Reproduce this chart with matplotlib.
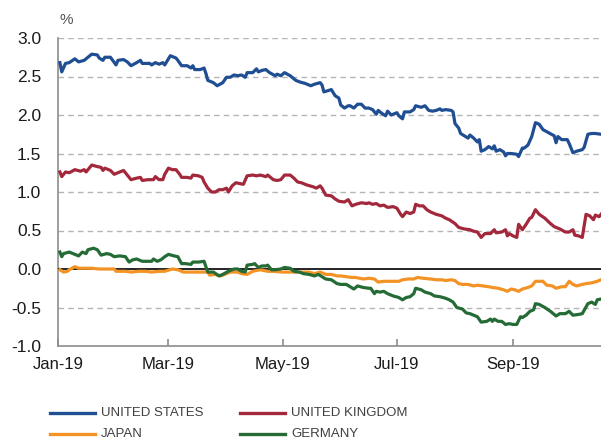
import matplotlib
matplotlib.use("Agg")
import matplotlib.pyplot as plt
from matplotlib.lines import Line2D
from matplotlib import font_manager
import pandas as pd

# ---------------- data (day offset from 1 Jan 2019, yield %) ----------------
start_date = "2019-01-01"
end_day = 290

us_days = [1, 2, 4, 6, 9, 11, 14, 18, 21, 22, 24, 25, 28, 31, 32, 35, 37, 39, 42, 44, 45, 49, 50, 52, 54, 56, 57,
           60, 63, 64, 66, 69, 71, 72, 73, 76, 78, 79, 80, 83, 85, 88, 90, 92, 94, 96, 98, 100, 101, 104, 106, 107,
           109, 111, 113, 116, 117, 119, 121, 124, 125, 127, 129, 132, 135, 137, 140, 141, 142, 146, 148, 150, 151,
           153, 155, 156, 158, 160, 162, 164, 166, 168, 170, 171, 173, 175, 176, 178, 181, 182, 184, 185, 188, 190,
           191, 194, 196, 198, 200, 202, 204, 205, 207, 210, 211, 212, 214, 215, 217, 219, 220, 222, 224, 225, 226,
           228, 230, 232, 233, 234, 236, 238, 239, 240, 242, 245, 246, 248, 249, 251, 253, 254, 255, 257, 259, 262,
           265, 266, 267, 269, 272, 273, 275, 277, 280, 281, 283, 285, 287, 290]
us_vals = [2.68, 2.56, 2.67, 2.68, 2.73, 2.69, 2.71, 2.79, 2.78, 2.74, 2.71, 2.75, 2.75, 2.65, 2.71, 2.72, 2.69, 2.64,
           2.68, 2.71, 2.67, 2.67, 2.65, 2.68, 2.66, 2.68, 2.65, 2.77, 2.74, 2.71, 2.64, 2.64, 2.61, 2.64, 2.59, 2.59,
           2.61, 2.54, 2.45, 2.42, 2.38, 2.42, 2.49, 2.49, 2.52, 2.51, 2.52, 2.49, 2.55, 2.55, 2.60, 2.56, 2.58, 2.59,
           2.55, 2.51, 2.53, 2.51, 2.55, 2.51, 2.49, 2.45, 2.43, 2.41, 2.38, 2.40, 2.42, 2.39, 2.30, 2.33, 2.25, 2.22,
           2.13, 2.09, 2.12, 2.12, 2.09, 2.14, 2.14, 2.09, 2.09, 2.07, 2.01, 2.06, 2.02, 1.99, 2.05, 2.00, 2.03, 1.99,
           1.95, 2.04, 2.04, 2.07, 2.12, 2.10, 2.12, 2.06, 2.05, 2.06, 2.08, 2.06, 2.07, 2.06, 2.04, 1.89, 1.83, 1.76,
           1.73, 1.70, 1.74, 1.70, 1.65, 1.68, 1.53, 1.55, 1.59, 1.56, 1.60, 1.53, 1.55, 1.52, 1.47, 1.50, 1.50, 1.49,
           1.46, 1.57, 1.57, 1.61, 1.72, 1.81, 1.90, 1.88, 1.81, 1.77, 1.73, 1.64, 1.72, 1.68, 1.68, 1.63, 1.51, 1.53,
           1.55, 1.58, 1.75, 1.76, 1.76, 1.75]

uk_days = [1, 2, 4, 6, 9, 12, 14, 15, 18, 21, 23, 24, 25, 28, 30, 33, 35, 37, 39, 42, 44, 45, 48, 51, 52, 54, 56, 57,
           59, 61, 63, 65, 66, 69, 71, 72, 75, 77, 78, 80, 82, 84, 86, 88, 90, 91, 93, 95, 97, 99, 101, 104, 106, 108,
           111, 112, 115, 117, 119, 121, 124, 126, 128, 130, 133, 136, 138, 140, 141, 143, 146, 148, 150, 153, 155,
           157, 159, 162, 165, 166, 168, 170, 172, 174, 176, 179, 181, 183, 184, 186, 188, 190, 191, 193, 195, 197,
           199, 202, 205, 207, 209, 212, 214, 217, 220, 222, 224, 226, 228, 231, 233, 234, 237, 239, 240, 241, 243,
           245, 246, 248, 250, 252, 253, 255, 257, 260, 263, 265, 268, 271, 273, 275, 276, 278, 280, 282, 284, 286,
           287, 289, 290]
uk_vals = [1.26, 1.20, 1.26, 1.25, 1.29, 1.27, 1.29, 1.26, 1.35, 1.33, 1.32, 1.28, 1.31, 1.28, 1.23, 1.26, 1.28, 1.22,
           1.16, 1.18, 1.19, 1.15, 1.16, 1.16, 1.20, 1.16, 1.16, 1.23, 1.31, 1.29, 1.29, 1.23, 1.19, 1.19, 1.18, 1.22,
           1.21, 1.19, 1.13, 1.05, 1.00, 1.00, 1.03, 1.03, 1.05, 1.00, 1.08, 1.12, 1.11, 1.10, 1.21, 1.22, 1.21, 1.22,
           1.20, 1.22, 1.16, 1.15, 1.16, 1.22, 1.22, 1.18, 1.13, 1.12, 1.09, 1.07, 1.05, 1.08, 1.05, 0.96, 0.95, 0.91,
           0.88, 0.87, 0.90, 0.82, 0.84, 0.86, 0.85, 0.86, 0.84, 0.85, 0.82, 0.83, 0.80, 0.81, 0.79, 0.71, 0.68, 0.74,
           0.72, 0.74, 0.84, 0.82, 0.82, 0.77, 0.74, 0.71, 0.69, 0.66, 0.64, 0.59, 0.54, 0.52, 0.51, 0.49, 0.48, 0.41,
           0.46, 0.46, 0.51, 0.47, 0.48, 0.51, 0.43, 0.46, 0.43, 0.41, 0.58, 0.51, 0.58, 0.66, 0.67, 0.77, 0.71, 0.66,
           0.59, 0.55, 0.52, 0.48, 0.48, 0.51, 0.44, 0.43, 0.41, 0.71, 0.69, 0.64, 0.70, 0.68, 0.71]

jp_days = [1, 3, 5, 6, 9, 11, 14, 18, 22, 25, 30, 31, 36, 39, 43, 47, 50, 54, 57, 61, 64, 67, 71, 77, 80, 81, 84, 87,
           89, 92, 96, 98, 101, 104, 108, 112, 115, 120, 123, 127, 130, 134, 137, 140, 143, 146, 149, 151, 154, 157,
           159, 163, 166, 169, 171, 174, 176, 179, 182, 184, 187, 190, 192, 195, 199, 202, 205, 207, 210, 212, 214,
           216, 219, 222, 224, 227, 230, 232, 235, 238, 240, 242, 244, 246, 248, 251, 253, 255, 257, 259, 261, 264,
           266, 269, 271, 273, 275, 277, 280, 282, 285, 288, 290]
jp_vals = [-0.01, -0.04, -0.03, -0.01, 0.03, 0.01, 0.01, 0.01, 0.00, 0.00, 0.00, -0.03, -0.03, -0.04, -0.03, -0.03,
           -0.04, -0.03, -0.03, 0.00, -0.01, -0.04, -0.04, -0.04, -0.04, -0.08, -0.07, -0.09, -0.07, -0.04, -0.04,
           -0.06, -0.07, -0.03, -0.01, -0.03, -0.03, -0.04, -0.04, -0.04, -0.04, -0.04, -0.06, -0.04, -0.07, -0.07,
           -0.09, -0.09, -0.10, -0.11, -0.11, -0.13, -0.12, -0.13, -0.17, -0.16, -0.16, -0.16, -0.16, -0.14, -0.13,
           -0.13, -0.11, -0.12, -0.13, -0.14, -0.14, -0.15, -0.14, -0.15, -0.19, -0.20, -0.20, -0.22, -0.21, -0.22,
           -0.23, -0.24, -0.25, -0.27, -0.29, -0.26, -0.27, -0.29, -0.26, -0.24, -0.22, -0.16, -0.16, -0.16, -0.21,
           -0.22, -0.25, -0.23, -0.23, -0.16, -0.20, -0.22, -0.20, -0.19, -0.18, -0.16, -0.14]

de_days = [1, 2, 3, 6, 8, 11, 13, 15, 16, 19, 21, 23, 26, 28, 30, 33, 36, 38, 40, 42, 45, 47, 50, 51, 53, 55, 57, 59,
           62, 64, 66, 68, 71, 72, 75, 78, 79, 80, 83, 86, 88, 91, 94, 96, 98, 100, 101, 104, 105, 107, 109, 111, 112,
           114, 116, 119, 121, 124, 126, 129, 131, 134, 137, 139, 141, 143, 146, 149, 151, 154, 156, 158, 160, 163,
           166, 167, 169, 170, 172, 174, 176, 179, 182, 184, 186, 188, 190, 191, 194, 196, 199, 201, 204, 207, 209,
           211, 213, 216, 218, 220, 222, 224, 226, 229, 231, 232, 233, 235, 237, 239, 241, 243, 245, 247, 248, 250,
           252, 254, 255, 257, 260, 263, 266, 268, 271, 273, 275, 278, 280, 283, 285, 287, 288, 290]
de_vals = [0.22, 0.16, 0.20, 0.22, 0.20, 0.17, 0.22, 0.20, 0.25, 0.27, 0.25, 0.18, 0.20, 0.19, 0.16, 0.17, 0.16, 0.09,
           0.12, 0.13, 0.10, 0.10, 0.10, 0.13, 0.10, 0.12, 0.16, 0.19, 0.17, 0.16, 0.07, 0.07, 0.06, 0.09, 0.09, 0.10,
           0.03, -0.04, -0.04, -0.09, -0.07, -0.03, 0.00, 0.00, -0.03, -0.04, 0.05, 0.06, 0.07, 0.02, 0.04, 0.04, 0.05,
           -0.01, -0.01, 0.00, 0.02, 0.01, -0.03, -0.04, -0.06, -0.07, -0.09, -0.07, -0.10, -0.13, -0.14, -0.19, -0.20,
           -0.20, -0.23, -0.26, -0.22, -0.24, -0.25, -0.25, -0.32, -0.29, -0.30, -0.29, -0.32, -0.35, -0.37, -0.40,
           -0.37, -0.36, -0.32, -0.25, -0.27, -0.30, -0.32, -0.35, -0.36, -0.38, -0.40, -0.43, -0.50, -0.52, -0.57,
           -0.58, -0.60, -0.62, -0.69, -0.68, -0.65, -0.68, -0.65, -0.68, -0.68, -0.72, -0.71, -0.72, -0.72, -0.62,
           -0.63, -0.60, -0.55, -0.53, -0.45, -0.46, -0.50, -0.55, -0.61, -0.58, -0.58, -0.55, -0.60, -0.59, -0.58,
           -0.45, -0.43, -0.46, -0.40, -0.39]

series_names = ["UNITED STATES", "UNITED KINGDOM", "JAPAN", "GERMANY"]
tick_dates = ["2019-01-01", "2019-03-01", "2019-05-01", "2019-07-01", "2019-09-01"]
tick_labels = ["Jan-19", "Mar-19", "May-19", "Jul-19", "Sep-19"]
y_ticks = [-1.0, -0.5, 0.0, 0.5, 1.0, 1.5, 2.0, 2.5, 3.0]

# ---------------- styling ----------------
colors = {"UNITED STATES": "#1f4e92", "UNITED KINGDOM": "#a3283c",
          "JAPAN": "#f39325", "GERMANY": "#256b35"}

installed = {f.name for f in font_manager.fontManager.ttflist}
base_font = "Liberation Sans" if "Liberation Sans" in installed else "DejaVu Sans"
narrow_font = "Liberation Sans Narrow" if "Liberation Sans Narrow" in installed else base_font
plt.rcParams["font.family"] = [base_font, "DejaVu Sans"]

t0 = pd.Timestamp(start_date)
def to_dates(days):
    return t0 + pd.to_timedelta(days, unit="D")

fig = plt.figure(figsize=(6.01, 4.41), dpi=100)
W, H = 601, 441
ax = fig.add_axes([58 / W, (H - 346) / H, (601 - 58) / W, (346 - 38) / H])

# grid
for yv in y_ticks:
    if yv == 0.0:
        ax.axhline(yv, color="black", lw=1.2, zorder=3)
    elif yv > -1.0:
        ax.axhline(yv, color="#b5b5b5", lw=1.0, ls=(0, (4, 3)), zorder=1)

data = {
    "UNITED STATES": (us_days, us_vals),
    "UNITED KINGDOM": (uk_days, uk_vals),
    "JAPAN": (jp_days, jp_vals),
    "GERMANY": (de_days, de_vals),
}
for name in ["JAPAN", "GERMANY", "UNITED KINGDOM", "UNITED STATES"]:
    d, v = data[name]
    ax.plot(to_dates(d), v, color=colors[name], lw=2.3, zorder=4, solid_joinstyle="round")

ax.set_xlim(t0, t0 + pd.Timedelta(days=end_day))
ax.set_ylim(-1.0, 3.0)
ax.set_yticks(y_ticks)
ax.set_yticklabels([f"{v:.1f}" for v in y_ticks])
ax.set_xticks(pd.to_datetime(tick_dates))
ax.set_xticklabels(tick_labels)

for s in ["top", "right"]:
    ax.spines[s].set_visible(False)
for s in ["left", "bottom"]:
    ax.spines[s].set_color("#8c8c8c")
    ax.spines[s].set_linewidth(1.2)

ax.tick_params(axis="y", length=0, pad=12, labelsize=12.5, labelcolor="#1a1a1a")
ax.tick_params(axis="x", direction="in", length=5, width=1.2, color="#8c8c8c",
               pad=8, labelsize=12, labelcolor="#1a1a1a")

fig.text(59 / W, 1 - 20 / H, "%", fontsize=11, color="#555555", va="center", ha="left")

# legend (manual)
legend_items = [("UNITED STATES", 50, 413), ("UNITED KINGDOM", 240, 413),
                ("JAPAN", 50, 434), ("GERMANY", 240, 434)]
for name, x0, y0 in legend_items:
    fig.add_artist(Line2D([x0 / W, (x0 + 45) / W], [1 - y0 / H, 1 - y0 / H],
                          transform=fig.transFigure, color=colors[name], lw=2.4))
    fig.text((x0 + 51) / W, 1 - y0 / H, name, fontsize=9.5, family=[narrow_font, "DejaVu Sans"],
             color="#404040", va="center", ha="left")

fig.savefig("out.png", dpi=100)
